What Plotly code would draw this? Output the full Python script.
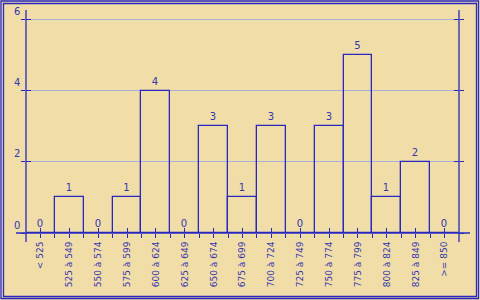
import plotly.graph_objects as go

categories = ["< 525", "525 à 549", "550 à 574", "575 à 599", "600 à 624", "625 à 649",
              "650 à 674", "675 à 699", "700 à 724", "725 à 749", "750 à 774", "775 à 799",
              "800 à 824", "825 à 849", ">= 850"]
counts = [0, 1, 0, 1, 4, 0, 3, 1, 3, 0, 3, 5, 1, 2, 0]
y_ticks = [0, 2, 4, 6]

BLUE = "#2828C0"
TEXT = "#3535B0"
GRID = "#AAAED8"
BG = "#F0DDA8"
FONT = "DejaVu Sans"

W, H = 480, 300
L, R, T, B = 26, 21, 10, 67
pw, ph = W - L - R, H - T - B

def px(x):
    return (x - L) / pw

def py(y):
    return (H - B - y) / ph

xpos = list(range(len(categories)))

fig = go.Figure()
fig.add_trace(go.Bar(
    x=xpos, y=counts, width=1,
    marker=dict(color="rgba(0,0,0,0)", line=dict(color=BLUE, width=1.3)),
    text=[str(c) for c in counts], textposition="outside",
    textfont=dict(family=FONT, size=10, color=TEXT),
    cliponaxis=False, showlegend=False, hoverinfo="skip",
))

shapes = []
shapes.append(dict(type="line", xref="paper", yref="paper", x0=px(16), x1=px(470), y0=py(233), y1=py(233),
                   line=dict(color=BLUE, width=1.3)))
shapes.append(dict(type="line", xref="paper", yref="paper", x0=px(26), x1=px(26), y0=py(10), y1=py(242),
                   line=dict(color=BLUE, width=1.3)))
shapes.append(dict(type="line", xref="paper", yref="paper", x0=px(459), x1=px(459), y0=py(10), y1=py(242),
                   line=dict(color=BLUE, width=1.3)))
shapes.append(dict(type="rect", xref="paper", yref="paper", x0=px(1), x1=px(478.5), y0=py(1), y1=py(298.5),
                   line=dict(color=BLUE, width=1.3)))
shapes.append(dict(type="rect", xref="paper", yref="paper", x0=px(3.5), x1=px(476.5), y0=py(3.5), y1=py(296.5),
                   line=dict(color=BLUE, width=1.3)))

annotations = []
for v in y_ticks:
    annotations.append(dict(xref="paper", yref="y", x=px(22), y=v, text=str(v), showarrow=False,
                            xanchor="right", yanchor="middle", yshift=8,
                            font=dict(family=FONT, size=10, color=TEXT)))

fig.update_layout(
    width=W, height=H,
    margin=dict(l=L, r=R, t=T, b=B, pad=0),
    paper_bgcolor=BG, plot_bgcolor=BG,
    bargap=0,
    shapes=shapes, annotations=annotations,
    xaxis=dict(
        range=[-0.5, len(categories) - 0.5],
        tickmode="array", tickvals=xpos, ticktext=categories, tickangle=-90,
        ticks="outside", ticklen=4, tickcolor=BLUE, tickwidth=1.3,
        tickfont=dict(family=FONT, size=9, color=TEXT),
        minor=dict(tickvals=[i + 0.5 for i in xpos[:-1]], ticks="outside", ticklen=4,
                   tickcolor=BLUE, tickwidth=1.3, showgrid=False),
        showgrid=False, zeroline=False, showline=False, fixedrange=True,
    ),
    xaxis2=dict(
        overlaying="x", matches="x", side="bottom",
        tickmode="array", tickvals=xpos, ticks="inside", ticklen=5, tickcolor=BLUE, tickwidth=1.3,
        showticklabels=False, showgrid=False, zeroline=False, showline=False,
    ),
    yaxis=dict(
        range=[0, 6.28], tickmode="array", tickvals=y_ticks,
        showticklabels=False, ticks="outside", ticklen=4, tickcolor=BLUE, tickwidth=1.3,
        mirror="ticks",
        showgrid=True, gridcolor=GRID, gridwidth=1, zeroline=False, showline=False,
    ),
    yaxis2=dict(
        overlaying="y", matches="y", side="left",
        tickmode="array", tickvals=y_ticks, ticks="inside", ticklen=5, tickcolor=BLUE, tickwidth=1.3,
        mirror="ticks", showticklabels=False, showgrid=False, zeroline=False, showline=False,
    ),
)
fig.add_trace(go.Scatter(x=[None], y=[None], xaxis="x2", yaxis="y2", showlegend=False, hoverinfo="skip"))

fig.write_html("out.html")
